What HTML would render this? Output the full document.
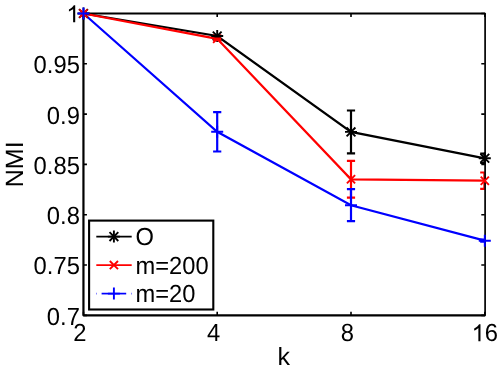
<!DOCTYPE html>
<html><head><meta charset="utf-8"><title>NMI vs k</title>
<style>html,body{margin:0;padding:0;background:#fff;overflow:hidden}</style></head>
<body>
<svg width="498" height="371" viewBox="0 0 498 371" style="display:block;will-change:transform;font-family:'Liberation Sans',sans-serif;font-size:23.8px" text-rendering="geometricPrecision">
<rect width="498" height="371" fill="#fff"/>
<path d="M485.10 13.5H83.45V315.35H485.10" fill="none" stroke="#000" stroke-width="2.2" stroke-linejoin="round"/>
<path d="M83.45 13.5h3.5M484.8 13.5h-3.5M83.45 63.8h3.5M484.8 63.8h-3.5M83.45 114.1h3.5M484.8 114.1h-3.5M83.45 164.4h3.5M484.8 164.4h-3.5M83.45 214.7h3.5M484.8 214.7h-3.5M83.45 265.0h3.5M484.8 265.0h-3.5M83.45 315.4h3.5M484.8 315.4h-3.5M83.5 315.35v-3.5M83.5 13.5v3.5M217.2 315.35v-3.5M217.2 13.5v3.5M351.0 315.35v-3.5M351.0 13.5v3.5M484.8 315.35v-3.5M484.8 13.5v3.5" stroke="#000" stroke-width="1.6" fill="none"/>
<path transform="translate(66.35 22.25) scale(0.01162 -0.01162)" d="M763 0H583V1147Q518 1085 412.5 1023T223 930V1104Q373 1174.5 485.5 1275T645 1470H763Z" fill="#000"/>
<text transform="translate(79.90 73.21) scale(1 1.04)" text-anchor="end">0.95</text>
<text transform="translate(79.90 123.52) scale(1 1.04)" text-anchor="end">0.9</text>
<text transform="translate(79.90 173.83) scale(1 1.04)" text-anchor="end">0.85</text>
<text transform="translate(79.90 224.13) scale(1 1.04)" text-anchor="end">0.8</text>
<text transform="translate(79.90 274.44) scale(1 1.04)" text-anchor="end">0.75</text>
<text transform="translate(79.90 324.75) scale(1 1.04)" text-anchor="end">0.7</text>
<text transform="translate(79.85 341.20) scale(1 1.04)" text-anchor="middle">2</text>
<text transform="translate(213.63 341.20) scale(1 1.04)" text-anchor="middle">4</text>
<text transform="translate(347.42 341.20) scale(1 1.04)" text-anchor="middle">8</text>
<path transform="translate(471.60 341.30) scale(0.01162 -0.01162)" d="M763 0H583V1147Q518 1085 412.5 1023T223 930V1104Q373 1174.5 485.5 1275T645 1470H763Z" fill="#000"/>
<text transform="translate(484.70 341.30) scale(1 1.04)">6</text>
<text x="283.7" y="364.6" text-anchor="middle" font-size="25">k</text>
<text transform="translate(22.5 164.3) rotate(-90)" text-anchor="middle" font-size="25">NMI</text>
<defs><clipPath id="c"><rect x="82.45" y="12.5" width="402.4" height="303.9"/></clipPath></defs>
<g clip-path="url(#c)">
<path d="M351.0 110.5V153.3M346.9 110.5H355.1M346.9 153.3H355.1" stroke="#000" stroke-width="2.2" fill="none"/>
<path d="M484.4 153.6V163.0M480.2 153.6H488.5M480.2 163.0H488.5" stroke="#000" stroke-width="2.2" fill="none"/>
<polyline points="83.5,13.5 217.2,36.0 351.0,131.9 484.8,158.3" fill="none" stroke="#000" stroke-width="2.2" stroke-linejoin="miter"/>
<path d="M351.0 160.9V197.7M346.9 160.9H355.1M346.9 197.7H355.1" stroke="#f00" stroke-width="2.2" fill="none"/>
<path d="M484.4 172.5V188.9M480.2 172.5H488.5M480.2 188.9H488.5" stroke="#f00" stroke-width="2.2" fill="none"/>
<polyline points="83.5,13.5 217.2,38.8 351.0,179.3 484.8,180.7" fill="none" stroke="#f00" stroke-width="2.2" stroke-linejoin="miter"/>
<path d="M217.2 112.1V151.5M213.1 112.1H221.3M213.1 151.5H221.3" stroke="#00f" stroke-width="2.2" fill="none"/>
<path d="M351.0 189.2V221.2M346.9 189.2H355.1M346.9 221.2H355.1" stroke="#00f" stroke-width="2.2" fill="none"/>
<path d="M484.4 239.7V241.7M480.2 239.7H488.5M480.2 241.7H488.5" stroke="#00f" stroke-width="2.2" fill="none"/>
<polyline points="83.5,13.5 217.2,131.8 351.0,205.2 484.8,240.7" fill="none" stroke="#00f" stroke-width="2.2" stroke-linejoin="miter"/>
</g>
<path d="M485.10 13.60V315.35" stroke="#000" stroke-width="1.7" stroke-linecap="round"/>
<path d="M77.5 13.5H89.5M83.5 7.5V19.5" stroke="#000" stroke-width="1.9" fill="none"/>
<path d="M79.0 9.1L87.9 17.9M79.0 17.9L87.9 9.1" stroke="#000" stroke-width="1.9" fill="none"/>
<path d="M79.4 9.4L87.5 17.6M79.4 17.6L87.5 9.4" stroke="#f00" stroke-width="1.9" fill="none"/>
<path d="M213.1 34.7L221.3 42.9M213.1 42.9L221.3 34.7" stroke="#f00" stroke-width="1.9" fill="none"/>
<path d="M346.9 175.2L355.1 183.4M346.9 183.4L355.1 175.2" stroke="#f00" stroke-width="1.9" fill="none"/>
<path d="M480.7 176.6L488.9 184.8M480.7 184.8L488.9 176.6" stroke="#f00" stroke-width="1.9" fill="none"/>
<path d="M211.2 36.0H223.2M217.2 30.0V42.0" stroke="#000" stroke-width="1.9" fill="none"/>
<path d="M212.8 31.6L221.6 40.4M212.8 40.4L221.6 31.6" stroke="#000" stroke-width="1.9" fill="none"/>
<path d="M345.0 131.9H357.0M351.0 125.9V137.9" stroke="#000" stroke-width="1.9" fill="none"/>
<path d="M346.6 127.5L355.4 136.3M346.6 136.3L355.4 127.5" stroke="#000" stroke-width="1.9" fill="none"/>
<path d="M478.8 158.3H490.8M484.8 152.3V164.3" stroke="#000" stroke-width="1.9" fill="none"/>
<path d="M480.4 153.9L489.2 162.7M480.4 162.7L489.2 153.9" stroke="#000" stroke-width="1.9" fill="none"/>
<path d="M213.1 36.0H221.3" stroke="#000" stroke-width="2.3" fill="none"/>
<path d="M213.1 38.5H221.3M213.1 40.1H221.3M217.2 38.5V40.1" stroke="#f00" stroke-width="2.2" fill="none"/>
<path d="M77.5 13.5H89.5M83.5 7.5V19.5" stroke="#00f" stroke-width="1.9" fill="none"/>
<path d="M211.2 131.8H223.2M217.2 125.8V137.8" stroke="#00f" stroke-width="1.9" fill="none"/>
<path d="M345.0 205.2H357.0M351.0 199.2V211.2" stroke="#00f" stroke-width="1.9" fill="none"/>
<path d="M478.8 240.7H490.8M484.8 234.7V246.7" stroke="#00f" stroke-width="1.9" fill="none"/>
<rect x="89.1" y="220.6" width="124.2" height="88.9" fill="#fff" stroke="#000" stroke-width="2.1"/>
<path d="M96.3 236.6H131.7" stroke="#000" stroke-width="1.7"/>
<path d="M107.9 236.6H119.9M113.9 230.6V242.6" stroke="#000" stroke-width="1.9" fill="none"/>
<path d="M109.5 232.2L118.3 241.0M109.5 241.0L118.3 232.2" stroke="#000" stroke-width="1.9" fill="none"/>
<path d="M96.3 265.1H131.7" stroke="#f00" stroke-width="1.7"/>
<path d="M109.8 261.0L118.0 269.2M109.8 269.2L118.0 261.0" stroke="#f00" stroke-width="1.9" fill="none"/>
<path d="M101.6 293.6H126.2" stroke="#00f" stroke-width="1.7"/>
<path d="M107.9 293.6H119.9M113.9 287.6V299.6" stroke="#00f" stroke-width="1.9" fill="none"/>
<path d="M96 293.6h1M131 293.6h1" stroke="#88f" stroke-width="1.7"/>
<text transform="translate(135.50 244.80) scale(1 1.04)" font-size="23.7">O</text>
<text transform="translate(135.50 273.60) scale(1 1.04)" font-size="23.7">m=200</text>
<text transform="translate(135.50 301.80) scale(1 1.04)" font-size="23.7">m=20</text>
</svg>
</body></html>
